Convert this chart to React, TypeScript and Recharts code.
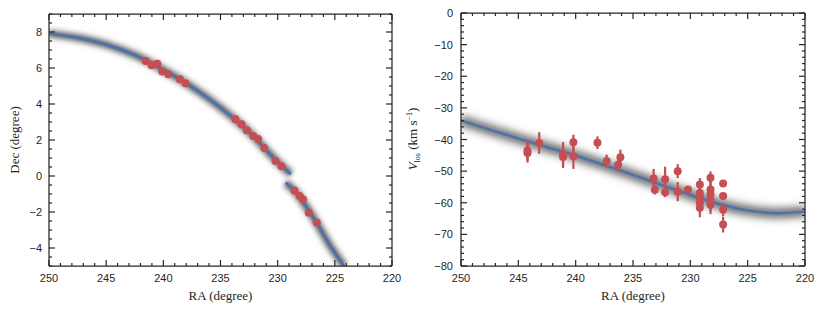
import { ComposedChart, Line, Scatter, XAxis, YAxis, ErrorBar } from 'recharts';

const INK = '#262626';
const RED = '#C44E52';
const BLUE = '#4C72B0';

const range = (a: number, b: number, s: number) => {
  const out: number[] = [];
  for (let v = a; v <= b + 1e-9; v += s) out.push(+v.toFixed(2));
  return out;
};

// axes
const raTicks = [250, 245, 240, 235, 230, 225, 220];
const raMinor = range(220, 250, 1);
const decTicks = [-4, -2, 0, 2, 4, 6, 8];
const decMinor = range(-5, 9, 0.5);
const vTicks = [0, -10, -20, -30, -40, -50, -60, -70, -80];
const vMinor = range(-80, 0, 2);

// left: model track on the sky (two pieces, gap at the chip edge)
const trackRaA = [250, 247.5, 245, 242.5, 240, 237.5, 235, 232.5, 230, 228.85];
const trackDecA = [7.91, 7.68, 7.3, 6.72, 5.9, 4.95, 3.8, 2.45, 0.78, 0.1];
const trackRaB = [229.29, 228.5, 227.5, 226.5, 225.5, 224.2];
const trackDecB = [-0.37, -0.85, -1.7, -2.7, -3.78, -5.0];

// left: member stars
const memberRa = [241.55, 241.03, 240.53, 240.1, 239.57, 238.55, 238.06, 233.69, 233.16, 232.7, 232.14, 231.71, 231.18, 230.19, 229.67, 228.53, 228.07, 227.78, 227.28, 226.58];
const memberDec = [6.39, 6.15, 6.24, 5.8, 5.65, 5.37, 5.15, 3.15, 2.87, 2.54, 2.22, 2.06, 1.56, 0.83, 0.54, -0.8, -1.11, -1.3, -2.04, -2.59];

// right: model velocity track
const vTrackRa = [250, 247.5, 245, 242.5, 240, 237.5, 235, 232.5, 230, 227.5, 225, 222.5, 220];
const vTrackV = [-34.0, -36.9, -39.7, -42.4, -45.1, -48.1, -51.2, -54.4, -57.5, -60.4, -62.4, -63.3, -62.8];

// right: member velocities with errors
const velRa = [244.2, 244.2, 243.18, 241.1, 241.1, 240.2, 240.2, 238.1, 237.3, 236.3, 236.1, 233.2, 233.1, 232.2, 232.2, 231.1, 231.1, 230.2, 229.17, 229.17, 229.17, 229.17, 229.17, 228.24, 228.24, 228.24, 228.24, 228.24, 227.14, 227.14, 227.14, 227.14];
const velV = [-43.5, -44.3, -41.1, -44.6, -45.5, -40.9, -45.3, -41.0, -46.8, -48.0, -45.6, -52.3, -55.9, -52.6, -56.7, -50.0, -56.5, -55.8, -54.2, -56.9, -58.4, -60.0, -61.6, -52.1, -55.8, -57.4, -59.0, -60.6, -53.9, -57.9, -62.2, -66.9];
const velErr = [3.3, 3.0, 3.4, 3.8, 3.5, 2.4, 4.0, 2.0, 2.0, 2.0, 2.4, 3.0, 1.5, 4.0, 1.5, 2.2, 3.0, 0.8, 2.0, 2.5, 3.0, 3.0, 3.0, 2.0, 3.0, 3.5, 3.5, 3.0, 0.5, 0.5, 2.0, 2.5];

const zip = (xs: number[], ys: number[]) => xs.map((x, i) => ({ x, y: ys[i] }));
const trackA = zip(trackRaA, trackDecA);
const trackB = zip(trackRaB, trackDecB);
const members = zip(memberRa, memberDec);
const vTrack = zip(vTrackRa, vTrackV);
const velMembers = velRa.map((x, i) => ({ x, y: velV[i], err: velErr[i] }));

const fmt = (v: number) => (v < 0 ? '\u2212' + Math.abs(v) : String(v));
const LABEL_FONT = '"Liberation Serif", "Times New Roman", serif';

function makeTick(side: 'bottom' | 'top' | 'left' | 'right', majors: number[], gap: number) {
  return (props: any) => {
    const x = Number(props.x);
    const y = Number(props.y);
    const v = Number(props.payload.value);
    const major = majors.includes(v);
    const len = major ? 6 : 3;
    let x2 = x;
    let y2 = y;
    if (side === 'bottom') y2 = y - len;
    else if (side === 'top') y2 = y + len;
    else if (side === 'left') x2 = x + len;
    else x2 = x - len;
    let text: any = null;
    if (major && side === 'bottom') {
      text = <text x={x} y={y + gap} textAnchor="middle" dominantBaseline="central" fill={INK} fontSize={11}>{fmt(v)}</text>;
    }
    if (major && side === 'left') {
      text = <text x={x - gap} y={y} textAnchor="end" dominantBaseline="central" fill={INK} fontSize={11}>{fmt(v)}</text>;
    }
    return (
      <g>
        <line x1={x} y1={y} x2={x2} y2={y2} stroke={INK} strokeWidth={1.2} />
        {text}
      </g>
    );
  };
}

// x title plus the rotated y title, both placed from the bottom axis box
const skyTitles = (props: any) => {
  const { x, y, width } = props.viewBox;
  const cx = 14;
  const cy = 140;
  return (
    <g fill={INK} fontSize={13} fontFamily={LABEL_FONT}>
      <text x={x + width / 2} y={y + 29} textAnchor="middle" dominantBaseline="central">RA (degree)</text>
      <text x={cx} y={cy} transform={`rotate(-90 ${cx} ${cy})`} textAnchor="middle" dominantBaseline="central">Dec (degree)</text>
    </g>
  );
};

const velTitles = (props: any) => {
  const { x, y, width } = props.viewBox;
  const cx = 9;
  const cy = 139;
  return (
    <g fill={INK} fontSize={13} fontFamily={LABEL_FONT}>
      <text x={x + width / 2} y={y + 29} textAnchor="middle" dominantBaseline="central">RA (degree)</text>
      <text x={cx} y={cy + 3} transform={`rotate(-90 ${cx} ${cy})`} textAnchor="middle">
        <tspan fontStyle="italic">V</tspan>
        <tspan fontSize={8} dy={3}>los</tspan>
        <tspan dy={-3}> (km s</tspan>
        <tspan fontSize={8} dy={-5}>{'\u2212'}1</tspan>
        <tspan dy={5}>)</tspan>
      </text>
    </g>
  );
};

const dot = (p: any) => <circle cx={p.cx} cy={p.cy} r={4} fill={RED} />;

const axisLine = { stroke: INK, strokeWidth: 1.25 };

function SkyPanel() {
  return (
    <ComposedChart width={405} height={311} margin={{ top: 13, right: 12, bottom: 0, left: 0 }}>
      <defs>
        <filter id="blurSky" x="-20%" y="-20%" width="140%" height="140%">
          <feGaussianBlur stdDeviation="2.2" />
        </filter>
      </defs>
      <XAxis xAxisId="b" type="number" dataKey="x" domain={[220, 250]} reversed allowDataOverflow ticks={raMinor} interval={0}
        height={45} tickSize={0} tickMargin={0} tickLine={false} axisLine={axisLine} tick={makeTick('bottom', raTicks, 12)} label={skyTitles} />
      <XAxis xAxisId="t" orientation="top" type="number" dataKey="x" domain={[220, 250]} reversed allowDataOverflow ticks={raMinor} interval={0}
        height={1} tickSize={0} tickMargin={0} tickLine={false} axisLine={axisLine} tick={makeTick('top', raTicks, 0)} />
      <YAxis yAxisId="l" type="number" dataKey="y" domain={[-5, 9]} allowDataOverflow ticks={decMinor} interval={0}
        width={49} tickSize={0} tickMargin={0} tickLine={false} axisLine={axisLine} tick={makeTick('left', decTicks, 7)} />
      <YAxis yAxisId="r" orientation="right" type="number" dataKey="y" domain={[-5, 9]} allowDataOverflow ticks={decMinor} interval={0}
        width={1} tickSize={0} tickMargin={0} tickLine={false} axisLine={axisLine} tick={makeTick('right', decTicks, 0)} />
      {[trackA, trackB].map((d, i) => (
        <Line key={'w' + i} xAxisId="b" yAxisId="l" data={d} dataKey="y" type="monotone" stroke="#000" strokeOpacity={0.14} strokeWidth={13}
          filter="url(#blurSky)" dot={false} activeDot={false} isAnimationActive={false} />
      ))}
      {[trackA, trackB].map((d, i) => (
        <Line key={'c' + i} xAxisId="b" yAxisId="l" data={d} dataKey="y" type="monotone" stroke="#000" strokeOpacity={0.55} strokeWidth={6}
          filter="url(#blurSky)" dot={false} activeDot={false} isAnimationActive={false} />
      ))}
      {[trackA, trackB].map((d, i) => (
        <Line key={'l' + i} xAxisId="b" yAxisId="l" data={d} dataKey="y" type="monotone" stroke={BLUE} strokeWidth={2.8}
          dot={false} activeDot={false} isAnimationActive={false} />
      ))}
      <Scatter xAxisId="b" yAxisId="l" data={members} dataKey="y" shape={dot} isAnimationActive={false} />
    </ComposedChart>
  );
}

function VelPanel() {
  return (
    <ComposedChart width={417} height={311} margin={{ top: 12, right: 16, bottom: 0, left: 0 }}>
      <defs>
        <filter id="blurVel" x="-20%" y="-20%" width="140%" height="140%">
          <feGaussianBlur stdDeviation="3" />
        </filter>
      </defs>
      <XAxis xAxisId="b" type="number" dataKey="x" domain={[220, 250]} reversed allowDataOverflow ticks={raMinor} interval={0}
        height={45} tickSize={0} tickMargin={0} tickLine={false} axisLine={axisLine} tick={makeTick('bottom', raTicks, 12)} label={velTitles} />
      <XAxis xAxisId="t" orientation="top" type="number" dataKey="x" domain={[220, 250]} reversed allowDataOverflow ticks={raMinor} interval={0}
        height={1} tickSize={0} tickMargin={0} tickLine={false} axisLine={axisLine} tick={makeTick('top', raTicks, 0)} />
      <YAxis yAxisId="l" type="number" dataKey="y" domain={[-80, 0]} allowDataOverflow ticks={vMinor} interval={0}
        width={56} tickSize={0} tickMargin={0} tickLine={false} axisLine={axisLine} tick={makeTick('left', vTicks, 8)} />
      <YAxis yAxisId="r" orientation="right" type="number" dataKey="y" domain={[-80, 0]} allowDataOverflow ticks={vMinor} interval={0}
        width={1} tickSize={0} tickMargin={0} tickLine={false} axisLine={axisLine} tick={makeTick('right', vTicks, 0)} />
      <Line xAxisId="b" yAxisId="l" data={vTrack} dataKey="y" type="monotone" stroke="#000" strokeOpacity={0.16} strokeWidth={17}
        filter="url(#blurVel)" dot={false} activeDot={false} isAnimationActive={false} />
      <Line xAxisId="b" yAxisId="l" data={vTrack} dataKey="y" type="monotone" stroke="#000" strokeOpacity={0.48} strokeWidth={8}
        filter="url(#blurVel)" dot={false} activeDot={false} isAnimationActive={false} />
      <Line xAxisId="b" yAxisId="l" data={vTrack} dataKey="y" type="monotone" stroke={BLUE} strokeWidth={2.4}
        dot={false} activeDot={false} isAnimationActive={false} />
      <Scatter xAxisId="b" yAxisId="l" data={velMembers} dataKey="y" shape={dot} isAnimationActive={false}>
        <ErrorBar dataKey="err" direction="y" width={0} stroke={RED} strokeWidth={2.2} />
      </Scatter>
    </ComposedChart>
  );
}

export default function App() {
  return (
    <div style={{ position: 'absolute', left: 0, top: 0, width: 822, height: 311, display: 'flex', background: '#fff', fontFamily: '"Liberation Sans", Arial, sans-serif' }}>
      <SkyPanel />
      <VelPanel />
    </div>
  );
}
